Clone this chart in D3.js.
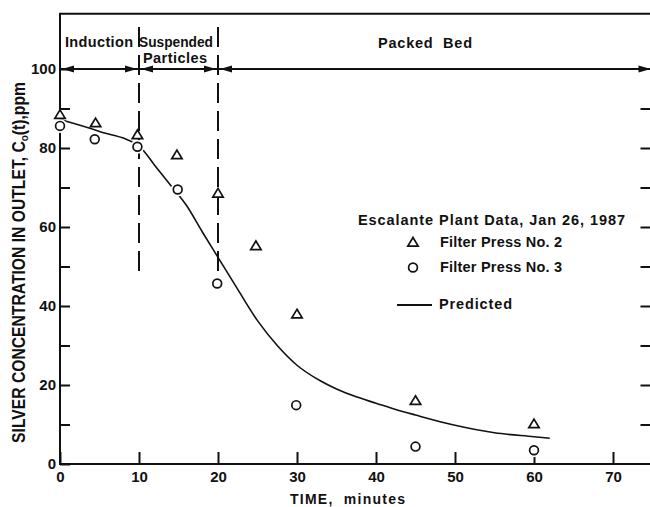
<!DOCTYPE html>
<html lang="en">
<head>
  <meta charset="UTF-8">
  <title>Silver concentration in outlet</title>
  <style>
    body { margin: 0; background: #fff; }
    svg { display: block; }
    text { font-family: "Liberation Sans", Arial, sans-serif; font-weight: bold; fill: #111; }
  </style>
</head>
<body>
  <svg></svg>
  <script src="https://cdn.jsdelivr.net/npm/d3@7"></script>
  <script>
    // Filter Press No. 2 (triangles)
    const fp2Time = [0, 4.5, 9.8, 14.8, 20, 24.8, 30, 45, 60]
    const fp2Conc = [88.4, 86.3, 83.3, 78.2, 68.5, 55.2, 37.9, 16.0, 10.1]
    // Filter Press No. 3 (circles)
    const fp3Time = [0, 4.4, 9.8, 14.9, 19.9, 29.9, 45, 60]
    const fp3Conc = [85.6, 82.2, 80.3, 69.5, 45.7, 14.9, 4.4, 3.5]
    // predicted curve
    const predTime = [0, 5, 10, 12, 14, 16, 18, 20, 22.5, 25, 27.5, 30, 33, 35, 37.5, 40, 42.5, 45, 50, 55, 60, 62]
    const predConc = [87.2, 84.2, 80.5, 75.6, 70.6, 65.5, 58.8, 52.3, 44.2, 36.3, 30.0, 25.0, 21.0, 19.0, 17.0, 15.4, 13.8, 12.4, 9.8, 7.9, 6.9, 6.5]
    // ticks and phases
    const xTicks = [0, 10, 20, 30, 40, 50, 60, 70]
    const yMajor = [0, 20, 40, 60, 80, 100]
    const yMinor = [10, 30, 50, 70, 90]
    const rightTicks = [10, 20, 30, 40, 50, 60, 70, 80, 90]
    const phaseBounds = [10, 20]

    var width = 650
    var height = 507
    var svg = d3.select("svg").attr("width", width).attr("height", height)

    var x = d3.scaleLinear().domain([0, 75]).range([60, 652.5])
    var y = d3.scaleLinear().domain([0, 114]).range([464, 13.7])

    // stretch a text to a given width
    function fit(sel, w) {
      sel.each(function () {
        var n = this.getComputedTextLength()
        d3.select(this).attr("textLength", w).attr("lengthAdjust", n > w ? "spacingAndGlyphs" : "spacing")
      })
    }

    // frame
    svg.append("path")
      .attr("d", `M${x(0)},${y(0)}V${y(114)}H${x(75)}V${y(0)}Z`)
      .attr("fill", "none").attr("stroke", "#111").attr("stroke-width", 2)

    // left axis
    svg.append("g").attr("transform", `translate(${x(0)},0)`)
      .call(d3.axisLeft(y).tickValues(yMajor).tickSize(-10).tickSizeOuter(0).tickPadding(4))
      .call(g => g.select(".domain").remove())
      .call(g => g.selectAll("line").attr("stroke", "#111").attr("stroke-width", 2))
      .call(g => g.selectAll("text").attr("font-size", 15).attr("font-family", null))
    svg.append("g").attr("transform", `translate(${x(0)},0)`)
      .call(d3.axisLeft(y).tickValues(yMinor).tickSize(-10).tickFormat(""))
      .call(g => g.select(".domain").remove())
      .call(g => g.selectAll("line").attr("stroke", "#111").attr("stroke-width", 2))

    // right axis
    svg.append("g").attr("transform", `translate(${x(75)},0)`)
      .call(d3.axisRight(y).tickValues(rightTicks).tickSize(-12).tickFormat(""))
      .call(g => g.select(".domain").remove())
      .call(g => g.selectAll("line").attr("stroke", "#111").attr("stroke-width", 2))

    // bottom axis
    svg.append("g").attr("transform", `translate(0,${y(0)})`)
      .call(d3.axisBottom(x).tickValues(xTicks).tickSize(-12).tickSizeOuter(0).tickPadding(7))
      .call(g => g.select(".domain").remove())
      .call(g => g.selectAll("line").attr("stroke", "#111").attr("stroke-width", 2))
      .call(g => g.selectAll("text").attr("font-size", 15).attr("font-family", null))

    // phase line at 100 with arrows
    svg.append("line")
      .attr("x1", x(0)).attr("x2", x(75)).attr("y1", y(100)).attr("y2", y(100))
      .attr("stroke", "#111").attr("stroke-width", 2)
    function arrow(px, dir) {
      var py = y(100)
      return `M${px},${py}L${px - dir * 12},${py - 3.5}L${px - dir * 12},${py + 3.5}Z`
    }
    var arrows = [[x(0) + 2, -1], [x(75) - 2, 1]]
    phaseBounds.forEach(b => { arrows.push([x(b) - 2, 1]); arrows.push([x(b) + 2, -1]) })
    svg.selectAll(".arrow").data(arrows).join("path")
      .attr("class", "arrow")
      .attr("d", d => arrow(d[0], d[1]))
      .attr("fill", "#111")

    // dashed phase boundaries
    svg.selectAll(".bound").data(phaseBounds).join("line")
      .attr("class", "bound")
      .attr("x1", d => x(d)).attr("x2", d => x(d))
      .attr("y1", 27).attr("y2", y(48.3))
      .attr("stroke", "#111").attr("stroke-width", 2)
      .attr("stroke-dasharray", "20,8")

    // phase labels
    svg.append("text").attr("x", 65).attr("y", 47).attr("font-size", 14.5).text("Induction").call(fit, 68)
    svg.append("text").attr("x", 139).attr("y", 47).attr("font-size", 14.5).text("Suspended").call(fit, 74)
    svg.append("text").attr("x", 143).attr("y", 63).attr("font-size", 14.5).text("Particles").call(fit, 64)
    svg.append("text").attr("x", 378).attr("y", 48).attr("font-size", 14.5).attr("xml:space", "preserve").text("Packed  Bed").call(fit, 94)

    // predicted curve
    var line = d3.line().x(d => x(d[0])).y(d => y(d[1])).curve(d3.curveMonotoneX)
    svg.append("path")
      .datum(d3.zip(predTime, predConc))
      .attr("d", line)
      .attr("fill", "none").attr("stroke", "#111").attr("stroke-width", 1.6)

    // white halos under circles
    var fp3 = d3.zip(fp3Time, fp3Conc)
    svg.selectAll(".halo").data(fp3).join("circle")
      .attr("class", "halo")
      .attr("cx", d => x(d[0])).attr("cy", d => y(d[1])).attr("r", 7)
      .attr("fill", "#fff")

    function tri(cx, cy) {
      return `M${cx},${cy - 5}L${cx + 5.2},${cy + 3.6}L${cx - 5.2},${cy + 3.6}Z`
    }
    svg.selectAll(".tri").data(d3.zip(fp2Time, fp2Conc)).join("path")
      .attr("class", "tri")
      .attr("d", d => tri(x(d[0]), y(d[1])))
      .attr("fill", "#fff").attr("stroke", "#111").attr("stroke-width", 1.7)

    svg.selectAll(".circ").data(fp3).join("circle")
      .attr("class", "circ")
      .attr("cx", d => x(d[0])).attr("cy", d => y(d[1])).attr("r", 4.4)
      .attr("fill", "#fff").attr("stroke", "#111").attr("stroke-width", 1.7)

    // legend
    svg.append("text").attr("x", 358).attr("y", 225).attr("font-size", 14.5)
      .text("Escalante Plant Data, Jan 26, 1987").call(fit, 267)
    svg.append("path").attr("d", tri(413, 242.5))
      .attr("fill", "#fff").attr("stroke", "#111").attr("stroke-width", 1.7)
    svg.append("text").attr("x", 440).attr("y", 247).attr("font-size", 14.5)
      .text("Filter Press No. 2").call(fit, 122)
    svg.append("circle").attr("cx", 413).attr("cy", 267.5).attr("r", 4.4)
      .attr("fill", "#fff").attr("stroke", "#111").attr("stroke-width", 1.7)
    svg.append("text").attr("x", 440).attr("y", 272).attr("font-size", 14.5)
      .text("Filter Press No. 3").call(fit, 122)
    svg.append("line").attr("x1", 397).attr("x2", 432).attr("y1", 305).attr("y2", 305)
      .attr("stroke", "#111").attr("stroke-width", 1.8)
    svg.append("text").attr("x", 439).attr("y", 309).attr("font-size", 14.5)
      .text("Predicted").call(fit, 73)

    // axis titles
    svg.append("text").attr("x", 290).attr("y", 504).attr("font-size", 14)
      .attr("xml:space", "preserve").text("TIME,  minutes").call(fit, 115)

    var ylab = svg.append("text")
      .attr("font-size", 17.5).attr("text-anchor", "middle")
    ylab.append("tspan").text("SILVER CONCENTRATION IN OUTLET, C")
    ylab.append("tspan").attr("font-size", 11).attr("dy", 3).text("o")
    ylab.append("tspan").attr("dy", -3).text("(t),ppm")
    var lw = ylab.node().getComputedTextLength()
    ylab.attr("transform", `translate(25,262.5) rotate(-90) scale(${361 / lw},1)`)
  </script>
</body>
</html>
